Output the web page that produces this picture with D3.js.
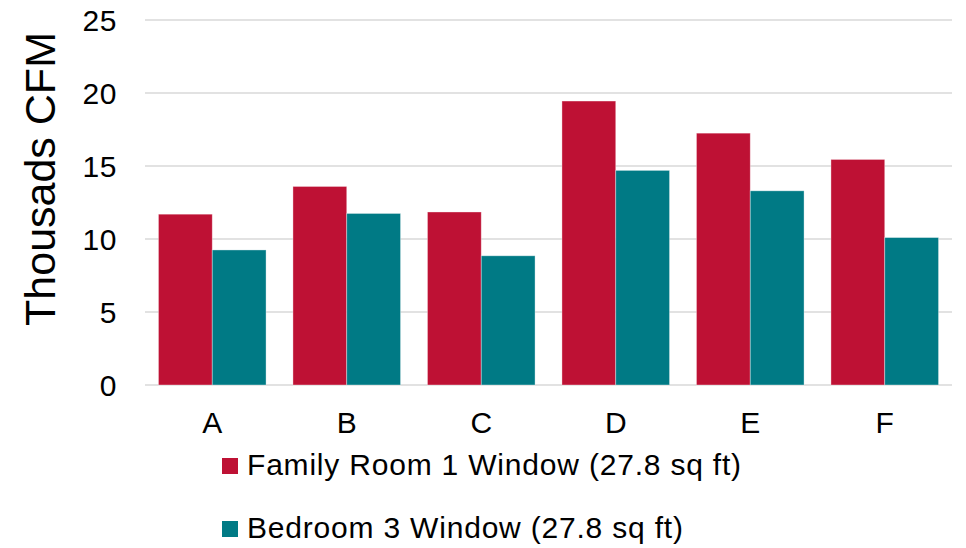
<!DOCTYPE html>
<html>
<head>
<meta charset="utf-8">
<script src="https://cdn.jsdelivr.net/npm/d3@7"></script>
<style>
  html, body { margin: 0; padding: 0; background: #fff; }
  svg { display: block; font-family: Arial, "Liberation Sans", sans-serif; }
</style>
</head>
<body>
<svg id="chart" width="966" height="548"></svg>
<script>
// Chart data
const categories = ["A", "B", "C", "D", "E", "F"];
const seriesNames = ["Family Room 1 Window (27.8 sq ft)", "Bedroom 3 Window (27.8 sq ft)"];
const familyRoom = [11.7, 13.6, 11.85, 19.45, 17.25, 15.45];
const bedroom = [9.25, 11.75, 8.85, 14.7, 13.3, 10.1];
const yTicks = [0, 5, 10, 15, 20, 25];
const colors = ["#BE1134", "#007A85"];

const seriesValues = [familyRoom, bedroom];

const svg = d3.select("#chart");
const plot = { left: 145, right: 952, top: 20, bottom: 385 };

const x = d3.scaleBand()
  .domain(categories)
  .range([plot.left, plot.right])
  .paddingInner(0.2)
  .paddingOuter(0.1);

const xInner = d3.scaleBand()
  .domain(d3.range(seriesValues.length))
  .range([0, x.bandwidth()]);

const y = d3.scaleLinear()
  .domain([0, 25])
  .range([plot.bottom, plot.top]);

// Horizontal gridlines
svg.append("g")
  .selectAll("line")
  .data(yTicks)
  .join("line")
  .attr("x1", plot.left)
  .attr("x2", plot.right)
  .attr("y1", d => y(d))
  .attr("y2", d => y(d))
  .attr("stroke", "#d9d9d9")
  .attr("stroke-width", 1.3);

// Y tick labels
svg.append("g")
  .selectAll("text")
  .data(yTicks)
  .join("text")
  .attr("x", 117)
  .attr("y", d => y(d))
  .attr("dy", "0.36em")
  .attr("text-anchor", "end")
  .attr("font-size", 30)
  .attr("letter-spacing", 0.6)
  .attr("fill", "#000")
  .text(d => d);

// Bars
const groups = svg.append("g")
  .selectAll("g")
  .data(categories)
  .join("g")
  .attr("transform", c => `translate(${x(c)},0)`);

groups.selectAll("rect")
  .data((c, i) => seriesValues.map((vals, s) => ({ s, v: vals[i] })))
  .join("rect")
  .attr("x", d => xInner(d.s))
  .attr("width", xInner.bandwidth())
  .attr("y", d => y(d.v))
  .attr("height", d => y(0) - y(d.v))
  .attr("fill", d => colors[d.s])
  .attr("stroke", "#ffffff")
  .attr("stroke-opacity", 0.45)
  .attr("stroke-width", 0.8);

// Category labels
svg.append("g")
  .selectAll("text")
  .data(categories)
  .join("text")
  .attr("x", c => x(c) + x.bandwidth() / 2)
  .attr("y", 433)
  .attr("text-anchor", "middle")
  .attr("font-size", 30)
  .attr("fill", "#000")
  .text(c => c);

// Y axis title
svg.append("text")
  .attr("transform", "translate(55,179) rotate(-90)")
  .attr("text-anchor", "middle")
  .attr("font-size", 43)
  .attr("fill", "#000")
  .text("Thousads CFM");

// Legend
const legend = svg.append("g")
  .selectAll("g")
  .data(seriesNames)
  .join("g")
  .attr("transform", (d, i) => `translate(222,${458 + i * 63})`);

legend.append("rect")
  .attr("width", 16)
  .attr("height", 16)
  .attr("fill", (d, i) => colors[i]);

legend.append("text")
  .attr("x", 25)
  .attr("y", 17)
  .attr("font-size", 30)
  .attr("letter-spacing", 0.8)
  .attr("fill", "#000")
  .text(d => d);
</script>
</body>
</html>
